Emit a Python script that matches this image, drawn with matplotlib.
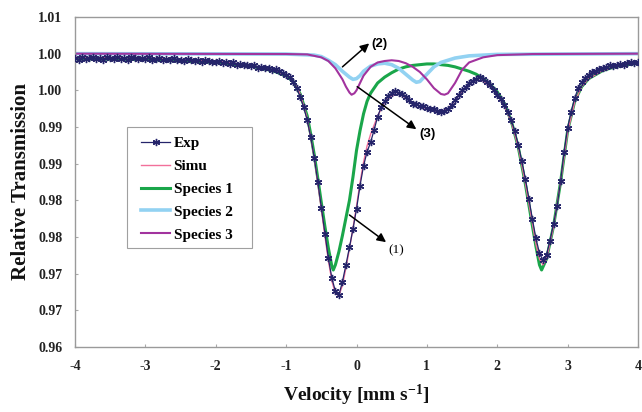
"""Mossbauer spectrum: experimental points, simulated fit and three species."""
import numpy as np
import matplotlib
matplotlib.use("Agg")
import matplotlib.pyplot as plt
from matplotlib.patches import Rectangle

SERIF = ["Liberation Serif", "DejaVu Serif"]
SANS = ["Liberation Sans", "DejaVu Sans"]
plt.rcParams["mathtext.fontset"] = "custom"
plt.rcParams["mathtext.rm"] = "Liberation Serif:bold"
plt.rcParams["mathtext.bf"] = "Liberation Serif:bold"
plt.rcParams["mathtext.it"] = "Liberation Serif:bold"

# Experimental transmission, velocity channels -4 .. 4 mm/s every 0.05
EXP_T = [
    0.9994, 0.9992, 0.9995, 0.9993, 0.9994, 0.9996, 0.9993, 0.9994, 0.9992, 0.9995,
    0.9994, 0.9993, 0.9995, 0.9993, 0.9994, 0.9992, 0.9995, 0.9994, 0.9993, 0.9994,
    0.9993, 0.9995, 0.9992, 0.9993, 0.9994, 0.9991, 0.9993, 0.9992, 0.9994, 0.9991,
    0.9992, 0.9990, 0.9993, 0.9991, 0.9990, 0.9992, 0.9989, 0.9991, 0.9990, 0.9988,
    0.9989, 0.9990, 0.9987, 0.9988, 0.9986, 0.9988, 0.9985, 0.9986, 0.9984, 0.9985,
    0.9983, 0.9984, 0.9981, 0.9982, 0.9980, 0.9981, 0.9978, 0.9979, 0.9976, 0.9974,
    0.9971, 0.9968, 0.9962, 0.9953, 0.9941, 0.9927, 0.9909, 0.9886, 0.9858, 0.9825,
    0.9790, 0.9754, 0.9721, 0.9694, 0.9676, 0.9671, 0.9689, 0.9712, 0.9736, 0.9761,
    0.9788, 0.9820, 0.9847, 0.9866, 0.9879, 0.9896, 0.9914, 0.9927, 0.9935, 0.9942,
    0.9946, 0.9949, 0.9947, 0.9945, 0.9941, 0.9937, 0.9932, 0.9931, 0.9928, 0.9928,
    0.9926, 0.9924, 0.9925, 0.9922, 0.9921, 0.9922, 0.9925, 0.9930, 0.9937, 0.9943,
    0.9950, 0.9954, 0.9960, 0.9963, 0.9966, 0.9968, 0.9965, 0.9962, 0.9957, 0.9951,
    0.9944, 0.9938, 0.9930, 0.9921, 0.9909, 0.9894, 0.9875, 0.9853, 0.9829, 0.9802,
    0.9774, 0.9748, 0.9728, 0.9718, 0.9726, 0.9745, 0.9768, 0.9792, 0.9826, 0.9866,
    0.9899, 0.9921, 0.9939, 0.9953, 0.9961, 0.9967, 0.9971, 0.9975, 0.9977, 0.9979,
    0.9981, 0.9982, 0.9984, 0.9983, 0.9985, 0.9986, 0.9985, 0.9987, 0.9988, 0.9987,
    0.9989,
]
EXP_V = np.linspace(-4, 4, len(EXP_T))

SIMU_V = [-4, -3, -2.5, -2, -1.5, -1.2, -1.0, -0.9, -0.8, -0.7, -0.6, -0.5, -0.45,
          -0.4, -0.35, -0.3, -0.25, -0.2, -0.15, -0.1, -0.05, 0.0, 0.05, 0.1, 0.15,
          0.2, 0.3, 0.4, 0.5, 0.6, 0.7, 0.8, 0.9, 1.0, 1.1, 1.2, 1.3, 1.4, 1.5, 1.6,
          1.7, 1.8, 1.9, 2.0, 2.1, 2.2, 2.3, 2.4, 2.5, 2.55, 2.6, 2.65, 2.7, 2.8,
          2.9, 3.0, 3.1, 3.2, 3.3, 3.5, 3.7, 4.0]
SIMU_T = [0.9995, 0.9994, 0.9992, 0.9990, 0.9984, 0.9978, 0.9971, 0.9963, 0.9945,
          0.9912, 0.9858, 0.9788, 0.9752, 0.9718, 0.9690, 0.9673, 0.9670, 0.9684,
          0.9708, 0.9734, 0.9762, 0.9792, 0.9824, 0.9852, 0.9874, 0.9890, 0.9915,
          0.9934, 0.9943, 0.9945, 0.9940, 0.9933, 0.9928, 0.9925, 0.9922, 0.9921,
          0.9925, 0.9936, 0.9949, 0.9959, 0.9964, 0.9963, 0.9955, 0.9944, 0.9929,
          0.9907, 0.9872, 0.9823, 0.9768, 0.9740, 0.9720, 0.9712, 0.9720, 0.9764,
          0.9825, 0.9893, 0.9934, 0.9955, 0.9966, 0.9977, 0.9983, 0.9988]

SP1_V = [-4, -3, -2, -1.5, -1.2, -1.0, -0.9, -0.8, -0.7, -0.65, -0.6, -0.55, -0.5,
         -0.45, -0.4, -0.35, -0.33, -0.3, -0.25, -0.2, -0.15, -0.1, -0.05, 0.0,
         0.05, 0.1, 0.15, 0.2, 0.3, 0.4, 0.5, 0.6, 0.7, 0.8, 0.9, 1.0, 1.1, 1.2,
         1.3, 1.4, 1.5, 1.6, 1.7, 1.8, 1.9, 2.0, 2.1, 2.2, 2.3, 2.4, 2.5, 2.55,
         2.6, 2.63, 2.7, 2.8, 2.9, 3.0, 3.1, 3.2, 3.3, 3.5, 3.7, 4.0]
SP1_T = [0.9993, 0.9992, 0.9988, 0.9983, 0.9977, 0.9970, 0.9962, 0.9945, 0.9915,
         0.9890, 0.9862, 0.9830, 0.9797, 0.9765, 0.9735, 0.9710, 0.9705, 0.9712,
         0.9730, 0.9752, 0.9776, 0.9800, 0.9832, 0.9868, 0.9895, 0.9918, 0.9935,
         0.9946, 0.9960, 0.9968, 0.9974, 0.9979, 0.9982, 0.9984, 0.9985, 0.9986,
         0.9986, 0.9985, 0.9984, 0.9982, 0.9979, 0.9976, 0.9972, 0.9966, 0.9958,
         0.9948, 0.9932, 0.9908, 0.9872, 0.9822, 0.9765, 0.9737, 0.9712, 0.9705,
         0.9720, 0.9765, 0.9825, 0.9895, 0.9935, 0.9955, 0.9966, 0.9977, 0.9983,
         0.9987]

SP2_V = [-4, -1.0, -0.6, -0.5, -0.4, -0.3, -0.2, -0.1, -0.05, 0.0, 0.05, 0.1, 0.2,
         0.3, 0.4, 0.5, 0.6, 0.7, 0.8, 0.85, 0.9, 1.0, 1.1, 1.2, 1.4, 1.6, 2.0, 4.0]
SP2_T = [1.0000, 0.99995, 0.9998, 0.9996, 0.9991, 0.9985, 0.9976, 0.9968, 0.9965,
         0.9966, 0.9970, 0.9976, 0.9983, 0.9986, 0.9987, 0.9985, 0.9980, 0.9972,
         0.9964, 0.9961, 0.9962, 0.9972, 0.9982, 0.9988, 0.9994, 0.9997, 0.9999,
         1.0000]

SP3_V = [-4, -1.0, -0.7, -0.5, -0.4, -0.3, -0.2, -0.15, -0.1, -0.07, -0.03, 0.0,
         0.05, 0.1, 0.2, 0.3, 0.4, 0.5, 0.6, 0.7, 0.8, 0.9, 1.0, 1.1, 1.2, 1.25,
         1.3, 1.4, 1.5, 1.6, 1.8, 2.0, 2.5, 4.0]
SP3_T = [1.0000, 0.99995, 0.9999, 0.9995, 0.9990, 0.9980, 0.9965, 0.9955, 0.9947,
         0.9944, 0.9946, 0.9950, 0.9960, 0.9970, 0.9982, 0.9988, 0.9990, 0.9991,
         0.9990, 0.9987, 0.9982, 0.9975, 0.9965, 0.9953, 0.9945, 0.9944, 0.9946,
         0.9960, 0.9978, 0.9988, 0.9995, 0.9998, 0.99995, 1.0000]

X_TICKS = [-4, -3, -2, -1, 0, 1, 2, 3, 4]
X_LABELS = ["-4", "-3", "-2", "-1", "0", "1", "2", "3", "4"]
Y_TICKS = [0.960, 0.965, 0.970, 0.975, 0.980, 0.985, 0.990, 0.995, 1.000, 1.005]
Y_LABELS = ["0.96", "0.97", "0.97", "0.98", "0.98", "0.99", "0.99", "1.00", "1.00", "1.01"]

# (label, arrow tail, arrow head, text position)
ANNOTATIONS = [
    ("(1)", (-0.10, 0.9780), (0.42, 0.9743), (0.46, 0.9732)),
    ("(2)", (-0.20, 0.9982), (0.18, 1.0014), (0.21, 1.0013)),
    ("(3)", (0.01, 0.9955), (0.85, 0.9897), (0.89, 0.9890)),
]

fig = plt.figure(figsize=(6.42, 4.12), dpi=100)
ax = fig.add_axes([75 / 642, 65 / 412, 563 / 642, 330 / 412])

ax.plot(SIMU_V, SIMU_T, color="#f2709a", lw=1.0, label="Simu", zorder=3)
ax.plot(SP1_V, SP1_T, color="#1aa64a", lw=2.2, label="Species 1", zorder=2)
ax.plot(SP2_V, SP2_T, color="#92d2f2", lw=2.6, label="Species 2", zorder=2)
ax.plot(SP3_V, SP3_T, color="#a2339e", lw=1.5, label="Species 3", zorder=2.5)
ax.plot(EXP_V, EXP_T, color="#25246a", lw=0.9, marker=(6, 2, 0),
        markersize=5.2, markeredgewidth=1.0, label="Exp", zorder=4)

ax.set_xlim(-4, 4)
ax.set_ylim(0.960, 1.005)
ax.set_xticks(X_TICKS)
ax.set_xticklabels(X_LABELS)
ax.set_yticks(Y_TICKS)
ax.set_yticklabels(Y_LABELS)
ax.tick_params(axis="both", direction="in", length=2.5, color="#aaaaaa")
ax.tick_params(axis="x", pad=9)
ax.tick_params(axis="y", pad=9)
for lab in ax.get_xticklabels() + ax.get_yticklabels():
    lab.set_fontfamily(SERIF)
    lab.set_fontweight("bold")
    lab.set_fontsize(10)
    lab.set_color("#222222")
for sp in ax.spines.values():
    sp.set_color("#9a9a9a")
    sp.set_linewidth(1.0)

ax.set_ylabel("Relative Transmission", fontsize=15, fontweight="bold",
              family=SERIF, color="#111111")
ax.yaxis.set_label_coords(-0.078, 0.5)
ax.set_xlabel("Velocity [mm s$^{-1}$]", fontsize=14, fontweight="bold",
              family=SERIF, color="#111111")
ax.xaxis.set_label_coords(0.5, -0.11)

for text, tail, head, pos in ANNOTATIONS:
    ax.annotate("", xy=head, xytext=tail,
                arrowprops=dict(arrowstyle="-|>", color="black", lw=1.1,
                                mutation_scale=13, shrinkA=0, shrinkB=0),
                zorder=6)
    fam = SERIF if text == "(1)" else SANS
    ax.text(pos[0], pos[1], text, fontsize=9.5, family=fam,
            fontweight="normal" if text == "(1)" else "bold",
            ha="left", va="center", zorder=6)

# legend frame drawn separately so its padding can differ per direction
ax.add_patch(Rectangle((0.0925, 0.300), 0.2224, 0.367, transform=ax.transAxes,
                       facecolor="white", edgecolor="#a0a0a0", lw=0.8, zorder=5))
handles, labels = ax.get_legend_handles_labels()
order = [labels.index(n) for n in ["Exp", "Simu", "Species 1", "Species 2", "Species 3"]]
leg = ax.legend([handles[i] for i in order], [labels[i] for i in order],
                loc="upper left", bbox_to_anchor=(0.118, 0.638),
                borderaxespad=0, borderpad=0, frameon=False,
                handlelength=1.9, handletextpad=0.2, labelspacing=0.6,
                prop={"family": SERIF, "weight": "bold", "size": 11})
leg.set_zorder(7)

fig.savefig("out.png", dpi=100, facecolor="white")
